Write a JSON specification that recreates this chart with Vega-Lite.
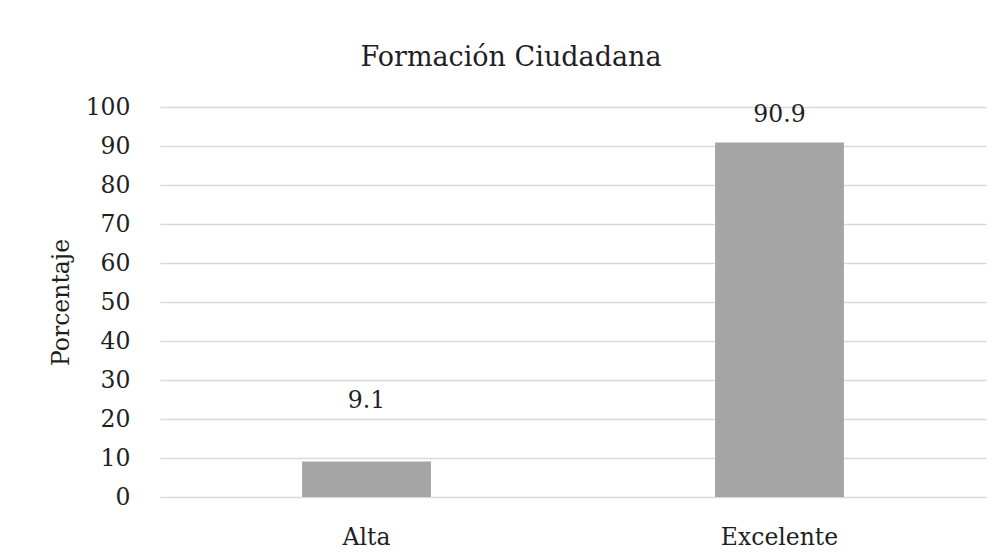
{
  "$schema": "https://vega.github.io/schema/vega-lite/v6.json",
  "width": 826,
  "height": 390,
  "autosize": {"type": "none"},
  "padding": {"left": 160, "top": 107, "right": 17, "bottom": 62},
  "background": "white",
  "title": {
    "text": "Formación Ciudadana",
    "font": "DejaVu Serif",
    "fontSize": 27,
    "fontWeight": "normal",
    "color": "#1f1f1f",
    "anchor": "middle",
    "baseline": "alphabetic",
    "dx": -62,
    "offset": 2
  },
  "data": {
    "values": [
      {"Nivel": "Alta", "Porcentaje": 9.1},
      {"Nivel": "Excelente", "Porcentaje": 90.9}
    ]
  },
  "encoding": {
    "x": {
      "field": "Nivel",
      "type": "nominal",
      "sort": null,
      "scale": {"paddingInner": 0.688, "paddingOuter": 0.344},
      "axis": {
        "title": null,
        "labelAngle": 0,
        "ticks": false,
        "domain": false,
        "grid": false,
        "labelPadding": 28,
        "labelFont": "DejaVu Serif",
        "labelFontSize": 23.5,
        "labelColor": "#1f1f1f"
      }
    },
    "y": {
      "field": "Porcentaje",
      "type": "quantitative",
      "scale": {"domain": [0, 100], "nice": false},
      "axis": {
        "title": "Porcentaje",
        "titleFont": "DejaVu Serif",
        "titleFontSize": 23.5,
        "titleFontWeight": "normal",
        "titleColor": "#1f1f1f",
        "titlePadding": 12,
        "values": [0, 10, 20, 30, 40, 50, 60, 70, 80, 90, 100],
        "ticks": false,
        "domain": false,
        "grid": true,
        "gridColor": "#d9d9d9",
        "gridWidth": 1.5,
        "labelPadding": 30,
        "labelFont": "DejaVu Serif",
        "labelFontSize": 23.5,
        "labelColor": "#1f1f1f"
      }
    }
  },
  "layer": [
    {"mark": {"type": "bar", "color": "#a5a5a5"}},
    {
      "mark": {
        "type": "text",
        "font": "DejaVu Serif",
        "fontSize": 23.5,
        "color": "#1f1f1f",
        "baseline": "middle",
        "dy": {"expr": "datum.Nivel === 'Alta' ? -61 : -27"}
      },
      "encoding": {"text": {"field": "Porcentaje", "type": "quantitative", "format": ".1f"}}
    }
  ],
  "config": {"view": {"stroke": null}}
}
